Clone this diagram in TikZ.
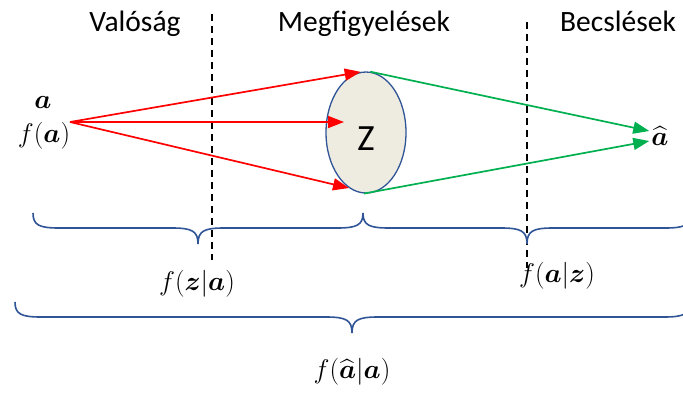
\RequirePackage{fix-cm}
\documentclass[tikz,border=0pt]{standalone}
\usepackage{amsmath,bm}
\usepackage{fontspec}
\setmainfont{Carlito}
\usetikzlibrary{arrows.meta,shapes.geometric,calc}
\definecolor{bblue}{HTML}{2F5597}
\definecolor{zfill}{HTML}{EEECE1}
\definecolor{ggreen}{HTML}{00B050}
% curly brace: left x, right x, top y, tip x
\newcommand\bracedraw[4]{%
  \draw[bracestyle] (#1,#3) .. controls ({#1},{#3+12}) and ({#1+6},{#3+15}) .. ({#1+26},{#3+15})
    -- ({#4-26},{#3+15}) .. controls ({#4-6},{#3+15}) and ({#4},{#3+18}) .. ({#4},{#3+31})
    .. controls ({#4},{#3+18}) and ({#4+6},{#3+15}) .. ({#4+26},{#3+15})
    -- ({#2-26},{#3+15}) .. controls ({#2-6},{#3+15}) and ({#2},{#3+12}) .. (#2,#3);}
\begin{document}
\begin{tikzpicture}[x=1pt,y=-1pt,
  hdr/.style={font=\fontsize{29.5}{34}\selectfont, anchor=base},
  mathlbl/.style={font=\fontsize{27}{32}\selectfont, inner sep=0pt},
  redarrow/.style={draw=red, line width=1.7pt, -{Triangle[length=16pt,width=12pt]}},
  greenarrow/.style={draw=ggreen, line width=1.7pt, -{Triangle[length=16pt,width=12pt]}},
  divider/.style={draw=black, dash pattern=on 7pt off 5pt, line width=1.3pt},
  bracestyle/.style={draw=bblue, line width=1.6pt}]
\useasboundingbox (0,0) rectangle (683,392);
% headers
\node[hdr] (val) at (135,31) {Valóság};
\node[hdr] (meg) at (364,31) {Megfigyelések};
\node[hdr] (bec) at (618,31) {Becslések};
% dividers
\coordinate (d1t) at (212,14);
\coordinate (d1b) at (212,260);
\coordinate (d2t) at (527,22);
\coordinate (d2b) at (527,268);
\draw[divider] (d1t) -- (d1b);
\draw[divider] (d2t) -- (d2b);
% source
\node[mathlbl] (a) at (43,102) {$\boldsymbol{a}$};
\node[mathlbl] (fa) at (44,136) {$f(\boldsymbol{a})$};
\coordinate (src) at (70,122);
% observations
\node[ellipse, draw=bblue, fill=zfill, line width=1.3pt, minimum width=80pt, minimum height=121pt, inner sep=0pt] (Z) at (366,132.5) {};
\node[font=\fontsize{37}{40}\selectfont, inner sep=0pt] (zt) at (366,139) {Z};
\coordinate (zin) at (344,122);
% estimate
\node[mathlbl] (hat) at (660,136) {$\widehat{\boldsymbol{a}}$};
% arrows
\draw[redarrow] (src) -- (Z.95);
\draw[redarrow] (src) -- (zin);
\draw[redarrow] (src) -- (Z.253);
\draw[greenarrow] (Z.86) -- ($(hat.west)+(-2,-5)$);
\draw[greenarrow] (Z.268) -- ($(hat.west)+(-2,5)$);
% braces
\bracedraw{33}{363}{213}{198}
\bracedraw{363}{691}{213}{527}
\bracedraw{15}{690}{302}{352}
% labels
\node[mathlbl] (fza) at (197,284) {$f(\boldsymbol{z}|\boldsymbol{a})$};
\node[mathlbl] (faz) at (557,276) {$f(\boldsymbol{a}|\boldsymbol{z})$};
\node[mathlbl] (fha) at (352,372) {$f(\widehat{\boldsymbol{a}}|\boldsymbol{a})$};
\end{tikzpicture}
\end{document}
